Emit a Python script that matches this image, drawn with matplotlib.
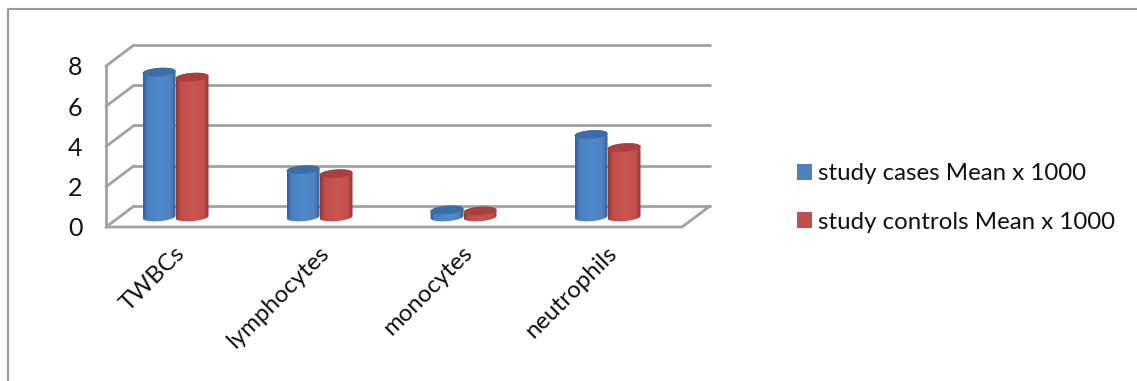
#!/usr/bin/env python
import numpy as np
import matplotlib
matplotlib.use('Agg')
import matplotlib.pyplot as plt
from matplotlib.patches import Patch, PathPatch
from matplotlib.path import Path
from matplotlib.transforms import ScaledTranslation

categories = ['TWBCs', 'lymphocytes', 'monocytes', 'neutrophils']
cases = [7.2, 2.35, 0.35, 4.1]
controls = [6.95, 2.15, 0.3, 3.45]
labels = ['study cases Mean x 1000', 'study controls Mean x 1000']
yticks = [0, 2, 4, 6, 8]

W, H = 1137, 381
GRID = '#a2a2a2'
BLUE = ['#33609a', '#4a80c0', '#5089c9', '#4d84c4', '#33609a']
RED = ['#8f3634', '#bf4e4a', '#cb5450', '#c4504c', '#8f3634']
BLUE_TOP = '#3b6da8'
RED_TOP = '#a8413e'

plt.rcParams['font.family'] = ['Lato', 'DejaVu Sans']

fig = plt.figure(figsize=(W / 100, H / 100), dpi=100)
# axes box is the front plane of the 3d floor/wall
x0, x1, ytop, ybot = 106, 682, 66, 227
ax = fig.add_axes([x0 / W, 1 - ybot / H, (x1 - x0) / W, (ybot - ytop) / H])
ax.set_facecolor('none')
ux = (x1 - x0) / 4.0  # pixels per category
uy = (ybot - ytop) / 8.0  # pixels per unit

dx, dy = 28 / ux, 21 / uy  # wall depth
barw = 33 / ux
rx, ry = barw / 2, 4.2 / uy
tilt = 1.2 / uy
base = 10 / uy


def wall():
    kw = dict(color=GRID, lw=2.0, clip_on=False, solid_capstyle='round', zorder=1)
    for v in yticks:
        ax.plot([dx, 4 + dx], [v + dy, v + dy], **kw)
        ax.plot([0, dx], [v, v + dy], **kw)
    ax.plot([0, 4, 4 + dx], [0, 0, dy], **kw)
    ax.plot([0, 0], [0, 8], **kw)


def ellipse_pts(xc, yc, t):
    return np.column_stack([xc + rx * np.cos(t),
                            yc + ry * np.sin(t) + tilt * np.cos(t)])


def cylinder(xc, val, cols, topcol):
    yb = base
    yt = base + val
    # side of the cylinder, shaded across its width
    lower = ellipse_pts(xc, yb, np.linspace(np.pi, 2 * np.pi, 40))
    upper = ellipse_pts(xc, yt, np.linspace(0, np.pi, 40))
    pts = np.vstack([lower, upper, lower[:1]])
    side = PathPatch(Path(pts), fc='none', ec='none', clip_on=False)
    ax.add_patch(side)
    rgb = matplotlib.colors.to_rgba_array(cols)[:, :3]
    stops = np.linspace(0, 1, 64)
    pos = [0, 0.14, 0.5, 0.84, 1]
    grad = np.stack([np.interp(stops, pos, rgb[:, c]) for c in range(3)], axis=-1)
    im = ax.imshow(grad[None, :, :], extent=[xc - rx, xc + rx, yb - ry * 2, yt + ry * 2],
                   aspect='auto', interpolation='bilinear', zorder=3)
    im.set_clip_path(side)
    # cap
    cap = ellipse_pts(xc, yt, np.linspace(0, 2 * np.pi, 80))
    ax.add_patch(PathPatch(Path(cap), fc=topcol, ec='none', clip_on=False, zorder=3.1))


wall()
for i in range(len(categories)):
    mid = i + 0.5 - 2.5 / ux
    cylinder(mid - barw / 2, cases[i], BLUE, BLUE_TOP)
    cylinder(mid + barw / 2, controls[i], RED, RED_TOP)

ax.set_xlim(0, 4)
ax.set_ylim(0, 8)
for s in ax.spines.values():
    s.set_visible(False)
ax.set_yticks(yticks)
ax.set_xticks(np.arange(4) + 0.5)
ax.set_xticklabels(categories, rotation=45, ha='right', rotation_mode='anchor')
ax.tick_params(axis='y', length=0, pad=17, labelsize=18, labelcolor='#111111')
ax.tick_params(axis='x', length=0, pad=11, labelsize=17.3, labelcolor='#111111')
shift = ScaledTranslation(-4 / 100, 0, fig.dpi_scale_trans)
for t in ax.get_xticklabels():
    t.set_transform(t.get_transform() + shift)

handles = [Patch(fc='#4f81bd'), Patch(fc='#c0504d')]
fig.legend(handles, labels, loc='center left', bbox_to_anchor=(797 / W, 1 - 198 / H),
           frameon=False, fontsize=17.3, handlelength=0.63, handleheight=0.63,
           handletextpad=0.26, labelspacing=1.13, labelcolor='#111111',
           borderpad=0, borderaxespad=0)

# chart area border
fig.add_artist(plt.Line2D([8 / W, 8 / W, 1], [0, 1 - 8.5 / H, 1 - 8.5 / H],
                          color='#9a9a9a', lw=1.5))

fig.savefig('out.png', dpi=100)
